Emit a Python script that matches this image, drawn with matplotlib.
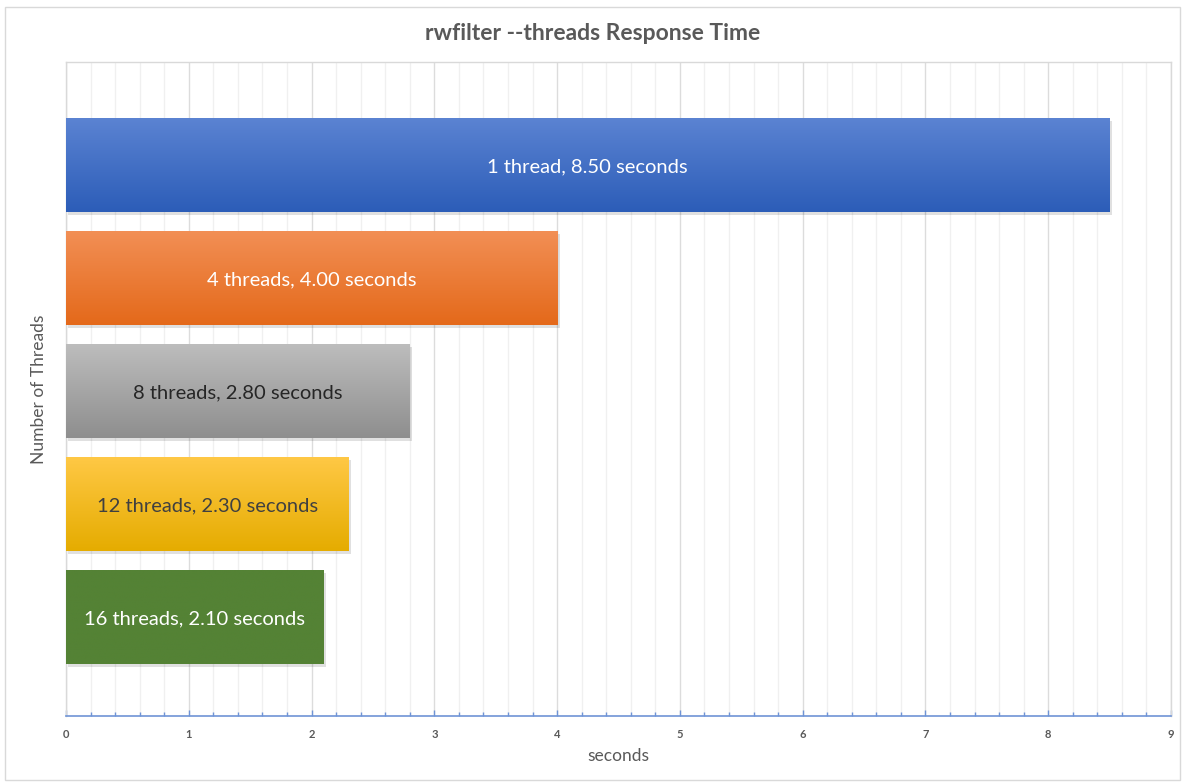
import matplotlib.pyplot as plt
import numpy as np
from matplotlib.colors import LinearSegmentedColormap
from matplotlib.patches import Rectangle
from matplotlib.ticker import MultipleLocator

plt.rcParams['font.family'] = ['Lato', 'DejaVu Sans']

# 数据
labels = ['1 thread', '4 threads', '8 threads', '12 threads', '16 threads']
seconds = [8.50, 4.00, 2.80, 2.30, 2.10]
# 每根条的渐变色（上 -> 下）和文字颜色
grad_top = ['#5B83D2', '#F28F55', '#BDBDBD', '#FFC845', '#548235']
grad_bot = ['#2C5DB8', '#E4691A', '#8E8E8E', '#E5AC00', '#548235']
text_colors = ['white', 'white', '#262626', '#404040', 'white']

fig = plt.figure(figsize=(11.85, 7.83), dpi=100)
ax = fig.add_axes([66 / 1185, 1 - 716 / 783, (1171 - 66) / 1185, (716 - 62) / 783])

# 外边框
fig.patches.append(Rectangle((5 / 1185, 3 / 783), 1175 / 1185, 773 / 783,
                             transform=fig.transFigure, fill=False,
                             edgecolor='#D9D9D9', linewidth=1))

y = np.arange(len(labels))
bars = ax.barh(y, seconds, height=0.83, color='none', zorder=3)

for bar, top, bot, tc, lab, val in zip(bars, grad_top, grad_bot, text_colors, labels, seconds):
    x0, y0 = bar.get_x(), bar.get_y()
    w, h = bar.get_width(), bar.get_height()
    # 阴影
    ax.add_patch(Rectangle((x0 + 0.02, y0 + 0.025), w, h, facecolor='#000000',
                           alpha=0.12, edgecolor='none', zorder=2))
    cmap = LinearSegmentedColormap.from_list('g', [top, bot])
    grad = np.linspace(0, 1, 256).reshape(-1, 1)
    im = ax.imshow(grad, cmap=cmap, aspect='auto', extent=(x0, x0 + w, y0 + h, y0),
                   origin='upper', zorder=3)
    im.set_clip_path(bar)
    ax.text(x0 + w / 2, y0 + h / 2 + 0.015, f'{lab}, {val:.2f} seconds', ha='center', va='center',
            color=tc, fontsize=14.5, zorder=4)

ax.set_xlim(0, 9)
ax.set_ylim((716 - 165) / 113, (62 - 165) / 113)
ax.set_yticks([])

ax.xaxis.set_major_locator(MultipleLocator(1))
ax.xaxis.set_minor_locator(MultipleLocator(0.2))
ax.grid(which='major', axis='x', color='#DCDCDC', linewidth=1, zorder=0)
ax.grid(which='minor', axis='x', color='#F0F0F0', linewidth=1, zorder=0)
ax.set_axisbelow(True)

axis_blue = '#6F94D6'
ax.tick_params(axis='x', which='both', direction='in', colors=axis_blue, labelcolor='#595959',
               labelsize=8, pad=9)
ax.tick_params(axis='x', which='major', length=4, width=1)
ax.tick_params(axis='x', which='minor', length=3, width=1)
for lbl in ax.get_xticklabels():
    lbl.set_fontweight('bold')

ax.spines['bottom'].set_color(axis_blue)
ax.spines['bottom'].set_linewidth(1.2)
for s in ['top', 'right', 'left']:
    ax.spines[s].set_color('#D9D9D9')
    ax.spines[s].set_linewidth(1)

ax.set_xlabel('seconds', fontsize=12.5, color='#595959', labelpad=6)
ax.set_ylabel('Number of Threads', fontsize=12.5, color='#595959', labelpad=14)
fig.text(0.5, 1 - 34 / 783, 'rwfilter --threads Response Time',
         ha='center', va='center', fontsize=16.5, fontweight='bold', color='#595959')

fig.savefig('out.png', dpi=100, facecolor='white')
